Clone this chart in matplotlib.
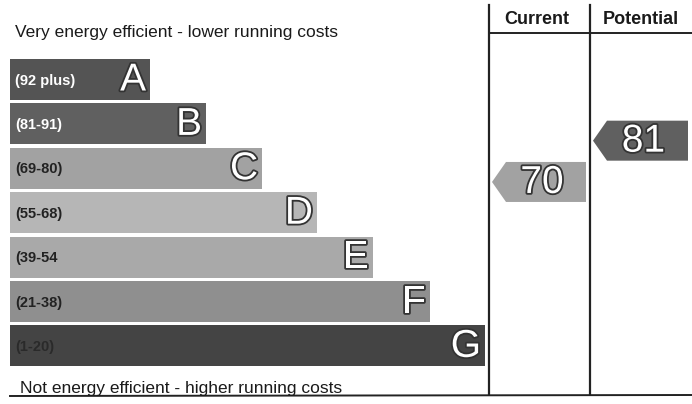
import numpy as np
import matplotlib
matplotlib.use("Agg")
import matplotlib.pyplot as plt
import matplotlib.patheffects as pe
from matplotlib.patches import Polygon

plt.rcParams['font.family'] = ['Liberation Sans', 'DejaVu Sans']

# --- data ---
bands = ['A', 'B', 'C', 'D', 'E', 'F', 'G']
ranges = ['(92 plus)', '(81-91)', '(69-80)', '(55-68)', '(39-54', '(21-38)', '(1-20)']
range_lo = [92, 81, 69, 55, 39, 21, 1]
range_hi = [100, 91, 80, 68, 54, 38, 20]
bar_len = [140, 196, 252, 307, 363, 420, 475]
bar_colors = ['#545454', '#606060', '#a2a2a2', '#b6b6b6', '#a9a9a9', '#8f8f8f', '#444444']
range_colors = ['white', 'white', '#222222', '#222222', '#222222', '#222222', '#2a2a2a']
current = 70
potential = 81

# layout (pixel space)
W, H = 692, 404
top0, pitch, bh = 59, 44.4, 41
left = 10
col_cur = (489, 590)
col_pot = (590, 692)

fig = plt.figure(figsize=(W / 100, H / 100), dpi=100)
ax = fig.add_axes([0, 0, 1, 1])
ax.set_xlim(0, W)
ax.set_ylim(H, 0)
ax.axis('off')

yc = [top0 + i * pitch + bh / 2 for i in range(len(bands))]
ax.barh(yc, bar_len, left=left, height=bh, color=bar_colors)

outline = [pe.withStroke(linewidth=2.6, foreground='#333333')]
for i, b in enumerate(bands):
    ax.text(left + 5, yc[i] + 1, ranges[i], color=range_colors[i], fontsize=10.5,
            fontweight='bold', va='center', ha='left')
    ax.text(left + bar_len[i] - 4, yc[i] + 1, b, color='white', fontsize=28,
            va='center', ha='right', path_effects=outline)

ax.text(15, 33, 'Very energy efficient - lower running costs', fontsize=12.5,
        va='center', ha='left', color='#1a1a1a')
ax.text(20, 388, 'Not energy efficient - higher running costs', fontsize=12.5,
        va='center', ha='left', color='#1a1a1a')

# column frame
lc = '#222222'
ax.plot([col_cur[0], col_cur[0]], [5, 394], color=lc, lw=1.6)
ax.plot([col_pot[0], col_pot[0]], [5, 394], color=lc, lw=1.6)
ax.plot([col_cur[0], W], [33, 33], color=lc, lw=1.4)
ax.plot([left, W], [396, 395], color=lc, lw=1.4)
ax.text(sum(col_cur) / 2 - 3, 19, 'Current', fontsize=13, fontweight='bold',
        ha='center', va='center', color='#1a1a1a')
ax.text(sum(col_pot) / 2, 19, 'Potential', fontsize=13, fontweight='bold',
        ha='center', va='center', color='#1a1a1a')


def band_of(v):
    for i in range(len(bands)):
        if range_lo[i] <= v <= range_hi[i]:
            return i
    return len(bands) - 1


def arrow(v, col):
    i = band_of(v)
    frac = (range_hi[i] - v) / (range_hi[i] - range_lo[i] + 1)
    y = top0 + i * pitch + frac * bh
    tip = col[0] + 3
    x1 = col[1] - 4
    h = 40
    poly = Polygon([(tip, y), (tip + 14, y - h / 2), (x1, y - h / 2),
                    (x1, y + h / 2), (tip + 14, y + h / 2)],
                   closed=True, color=bar_colors[i], lw=0)
    ax.add_patch(poly)
    ax.text((tip + 14 + x1) / 2 - 4, y + 1, str(v), color='white', fontsize=28,
            ha='center', va='center', path_effects=outline)


arrow(current, col_cur)
arrow(potential, col_pot)

fig.savefig('out.png', dpi=100)
